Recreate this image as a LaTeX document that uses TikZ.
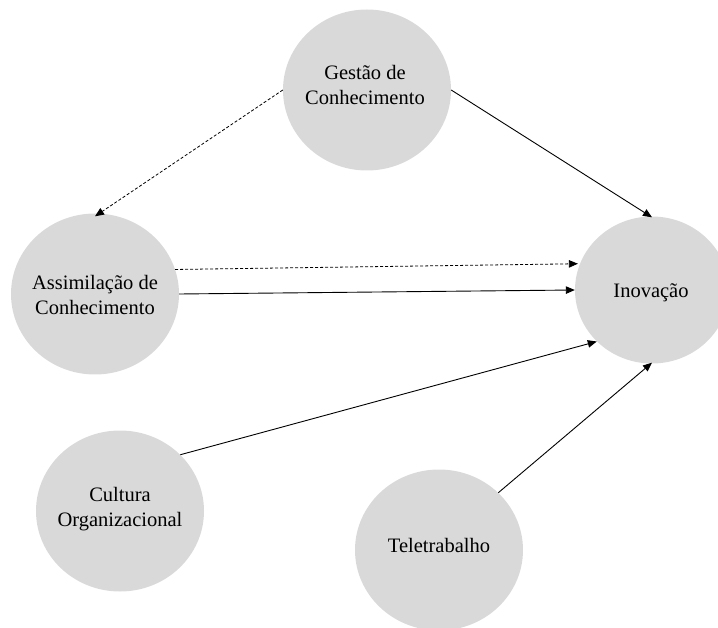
\documentclass[tikz,border=0pt]{standalone}
\usepackage{fontspec}
\setmainfont{Liberation Serif}
\usetikzlibrary{shapes.geometric,arrows.meta}
\begin{document}
\begin{tikzpicture}[x=1pt,y=-1pt,
  bubble/.style={ellipse,fill=bubblegray,draw=none,minimum width=168pt,minimum height=161pt,inner sep=0pt},
  txt/.style={align=center,font=\fontsize{20.5pt}{25.5pt}\selectfont,text=black,inner sep=0pt},
  link/.style={line width=0.9pt,-{Triangle[length=9pt,width=7.5pt]}},
  dlink/.style={link,line width=0.8pt,dash pattern=on 3pt off 2pt}]
\definecolor{bubblegray}{HTML}{D9D9D9}
\useasboundingbox (0,0) rectangle (718,628);
\node[bubble] (gestao) at (367,90) {};
\node[bubble] (assim) at (95,294) {};
\node[bubble,minimum width=154pt,minimum height=147pt] (inov) at (652,290) {};
\node[bubble] (cultura) at (120,511) {};
\node[bubble] (tele) at (439,550) {};
\node[txt] (gestao-t) at (365,85) {Gestão de\\Conhecimento};
\node[txt] (assim-t) at (95,295) {Assimilação de\\Conhecimento};
\node[txt] (inov-t) at (651,293) {Inovação};
\node[txt] (cultura-t) at (120,509) {Cultura\\Organizacional};
\node[txt] (tele-t) at (439,545) {Teletrabalho};
\draw[link] (gestao.0) -- ([yshift=-1pt]inov.90);
\draw[dlink] (gestao.180) -- ([yshift=-3pt]assim.90);
\draw[dlink] (assim.17) -- ([xshift=-2pt]inov.160);
\draw[link] (assim.0) -- (inov.180);
\draw[link] (cultura.43) -- (inov.223);
\draw[link] (tele.44) -- ([yshift=1pt]inov.270);
\end{tikzpicture}
\end{document}
